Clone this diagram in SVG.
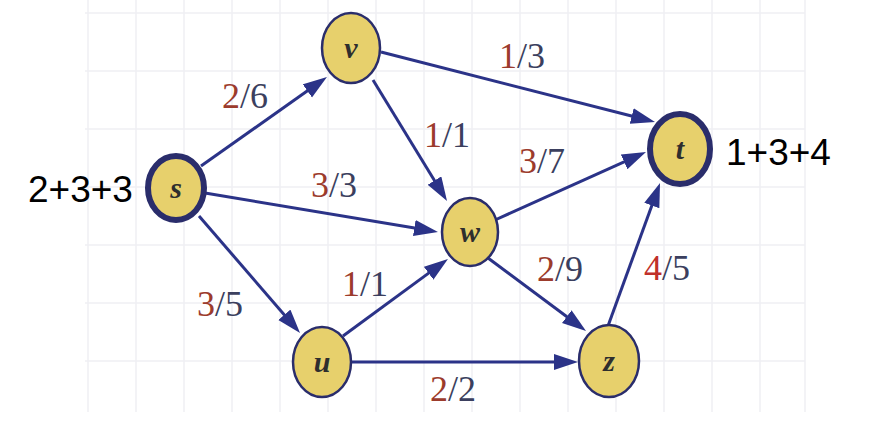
<svg xmlns="http://www.w3.org/2000/svg" width="872" height="424" viewBox="0 0 872 424">
<style>
.grid line{stroke:#efeff3;stroke-width:1.5}
.edge{stroke:#2b3388;stroke-width:3;fill:none;marker-end:url(#ah)}
.node ellipse{fill:#e7d06c;stroke:#2a2d6b;stroke-width:2.5}
.node.thick ellipse{stroke-width:6}
.nl{font-family:"Liberation Serif","Times New Roman","DejaVu Serif",serif;font-style:italic;font-weight:bold;font-size:30px;fill:#2e2e2e;text-anchor:middle}
.lbl{font-family:"Liberation Serif","Times New Roman","DejaVu Serif",serif;font-size:36px;fill:#3b3f5e}
.num{fill:#9c3b2c}
.sum{font-family:"Liberation Sans",Arial,sans-serif;font-size:37px;fill:#000}
</style>
<defs>
<marker id="ah" markerUnits="userSpaceOnUse" markerWidth="26" markerHeight="18" refX="14" refY="8" orient="auto">
<path d="M0,0 L24,8 L0,16 z" fill="#2b3388"/>
</marker>
</defs>
<rect width="872" height="424" fill="#fff"/>
<g class="grid">
<line x1="88" y1="0" x2="88" y2="412"/><line x1="136" y1="0" x2="136" y2="412"/><line x1="184" y1="0" x2="184" y2="412"/><line x1="232" y1="0" x2="232" y2="412"/>
<line x1="280" y1="0" x2="280" y2="412"/><line x1="328" y1="0" x2="328" y2="412"/><line x1="376" y1="0" x2="376" y2="412"/><line x1="424" y1="0" x2="424" y2="412"/>
<line x1="472" y1="0" x2="472" y2="412"/><line x1="520" y1="0" x2="520" y2="412"/><line x1="568" y1="0" x2="568" y2="412"/><line x1="616" y1="0" x2="616" y2="412"/>
<line x1="664" y1="0" x2="664" y2="412"/><line x1="712" y1="0" x2="712" y2="412"/><line x1="760" y1="0" x2="760" y2="412"/><line x1="805" y1="0" x2="805" y2="412"/>
<line x1="85" y1="13" x2="805" y2="13"/><line x1="85" y1="71" x2="805" y2="71"/><line x1="85" y1="129" x2="805" y2="129"/><line x1="85" y1="187" x2="805" y2="187"/>
<line x1="85" y1="245" x2="805" y2="245"/><line x1="85" y1="303" x2="805" y2="303"/><line x1="85" y1="361" x2="805" y2="361"/>
</g>
<g id="connectors">
<line class="edge" x1="201" y1="166" x2="318.8" y2="82.8"/>
<line class="edge" x1="205" y1="193" x2="428.1" y2="230.3"/>
<line class="edge" x1="199" y1="216" x2="293.5" y2="325.4"/>
<line class="edge" x1="381" y1="52" x2="645.3" y2="119.5"/>
<line class="edge" x1="373" y1="80" x2="441.8" y2="192.5"/>
<line class="edge" x1="343" y1="336" x2="439.9" y2="264.9"/>
<line class="edge" x1="495" y1="220" x2="636.9" y2="156.1"/>
<line class="edge" x1="488" y1="258" x2="578" y2="325"/>
<line class="edge" x1="352" y1="362" x2="568" y2="362"/>
<line class="edge" x1="608" y1="326" x2="656.6" y2="192.4"/>
</g>
<g id="labels">
<text class="lbl" x="222" y="108"><tspan class="num">2</tspan>/6</text>
<text class="lbl" x="311" y="197"><tspan class="num">3</tspan>/3</text>
<text class="lbl" x="197" y="316"><tspan class="num">3</tspan>/5</text>
<text class="lbl" x="499" y="68"><tspan class="num">1</tspan>/3</text>
<text class="lbl" x="424" y="147"><tspan class="num">1</tspan>/1</text>
<text class="lbl" x="342" y="296"><tspan class="num">1</tspan>/1</text>
<text class="lbl" x="519" y="173"><tspan class="num">3</tspan>/7</text>
<text class="lbl" x="537" y="281"><tspan class="num">2</tspan>/9</text>
<text class="lbl" x="644" y="280"><tspan class="num" style="fill:#c0302a">4</tspan>/5</text>
<text class="lbl" x="430" y="401"><tspan class="num">2</tspan>/2</text>
</g>
<g id="node-s" class="node thick"><ellipse cx="176" cy="188" rx="28" ry="32"/><text class="nl" x="176" y="198">s</text></g>
<g id="node-v" class="node"><ellipse cx="351" cy="48" rx="29" ry="35"/><text class="nl" x="351" y="58">v</text></g>
<g id="node-t" class="node thick"><ellipse cx="680" cy="149" rx="30" ry="35"/><text class="nl" x="680" y="159">t</text></g>
<g id="node-w" class="node"><ellipse cx="470" cy="232" rx="28" ry="34"/><text class="nl" x="470" y="242">w</text></g>
<g id="node-u" class="node"><ellipse cx="322" cy="362" rx="29" ry="35"/><text class="nl" x="322" y="372">u</text></g>
<g id="node-z" class="node"><ellipse cx="609" cy="361" rx="30" ry="36"/><text class="nl" x="609" y="371">z</text></g>
<text class="sum" x="28" y="202">2+3+3</text>
<text class="sum" x="726" y="165">1+3+4</text>
</svg>
